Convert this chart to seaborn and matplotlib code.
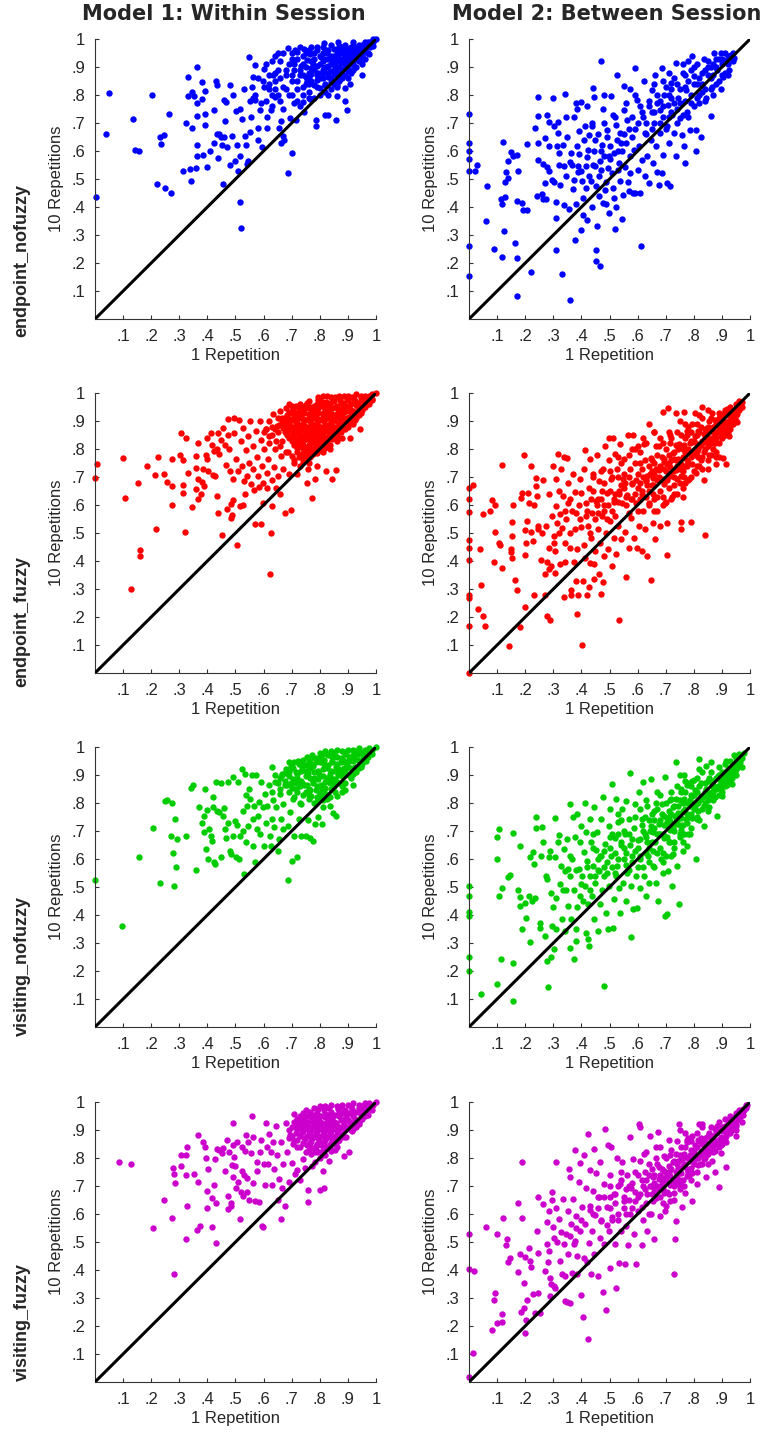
import pandas as pd
import matplotlib
matplotlib.use("Agg")
import matplotlib.pyplot as plt
import seaborn as sns

# data: (1 repetition, 10 repetitions), one list per panel
endpoint_nofuzzy_within = [
    (0.005, 0.435), (0.05, 0.807), (0.038, 0.66), (0.135, 0.714), (0.143, 0.605), (0.155, 0.599),
    (0.202, 0.802), (0.221, 0.481), (0.231, 0.651), (0.234, 0.626), (0.247, 0.657), (0.251, 0.468),
    (0.272, 0.451), (0.263, 0.731), (0.312, 0.529), (0.323, 0.70), (0.33, 0.865), (0.332, 0.795),
    (0.34, 0.494), (0.337, 0.536), (0.346, 0.681), (0.346, 0.811), (0.352, 0.795), (0.362, 0.902),
    (0.362, 0.771), (0.359, 0.54), (0.363, 0.724), (0.364, 0.621), (0.362, 0.583), (0.383, 0.585),
    (0.382, 0.848), (0.382, 0.786), (0.393, 0.814), (0.393, 0.693), (0.39, 0.733), (0.40, 0.542),
    (0.408, 0.602), (0.422, 0.748), (0.423, 0.63), (0.432, 0.85), (0.433, 0.835), (0.433, 0.66),
    (0.438, 0.575), (0.441, 0.661), (0.448, 0.652), (0.452, 0.621), (0.458, 0.65), (0.457, 0.482),
    (0.46, 0.783), (0.469, 0.614), (0.461, 0.707), (0.466, 0.776), (0.48, 0.837), (0.479, 0.55),
    (0.489, 0.654), (0.493, 0.80), (0.498, 0.563), (0.503, 0.743), (0.508, 0.53), (0.506, 0.623),
    (0.516, 0.419), (0.52, 0.326), (0.517, 0.581), (0.516, 0.752), (0.523, 0.714), (0.535, 0.655),
    (0.537, 0.621), (0.541, 0.554), (0.543, 0.563), (0.549, 0.937), (0.552, 0.667), (0.554, 0.72),
    (0.561, 0.864), (0.562, 0.788), (0.568, 0.908), (0.569, 0.781), (0.58, 0.683), (0.581, 0.64),
    (0.586, 0.748), (0.594, 0.614), (0.597, 0.852), (0.60, 0.894), (0.611, 0.721), (0.613, 0.681),
    (0.618, 0.821), (0.625, 0.748), (0.635, 0.871), (0.639, 0.793), (0.652, 0.95), (0.656, 0.681),
    (0.661, 0.629), (0.668, 0.655), (0.662, 0.707), (0.673, 0.64), (0.688, 0.968), (0.688, 0.521),
    (0.702, 0.593), (0.694, 0.718), (0.712, 0.96), (0.715, 0.71), (0.73, 0.76), (0.745, 0.738),
    (0.756, 0.849), (0.767, 0.786), (0.786, 0.688), (0.786, 0.712), (0.789, 0.96), (0.818, 0.73),
    (0.828, 0.73), (0.858, 0.71), (0.862, 0.837), (0.863, 0.795), (0.891, 0.78), (0.89, 0.825),
    (0.898, 0.748), (0.907, 0.838), (0.924, 0.902), (0.949, 0.873),
    (0.60, 0.83), (0.62, 0.87), (0.63, 0.80), (0.64, 0.85), (0.65, 0.89), (0.66, 0.78), (0.67, 0.83),
    (0.68, 0.87), (0.69, 0.91), (0.69, 0.80), (0.70, 0.85), (0.71, 0.89), (0.71, 0.77), (0.72, 0.82),
    (0.72, 0.93), (0.73, 0.87), (0.74, 0.80), (0.74, 0.91), (0.75, 0.84), (0.75, 0.95), (0.76, 0.88),
    (0.76, 0.81), (0.77, 0.92), (0.77, 0.85), (0.78, 0.89), (0.78, 0.95), (0.79, 0.83), (0.79, 0.87),
    (0.80, 0.91), (0.80, 0.94), (0.81, 0.86), (0.81, 0.89), (0.82, 0.93), (0.82, 0.84), (0.83, 0.88),
    (0.83, 0.96), (0.84, 0.91), (0.84, 0.86), (0.85, 0.94), (0.85, 0.89), (0.86, 0.92), (0.86, 0.87),
    (0.87, 0.95), (0.87, 0.90), (0.88, 0.93), (0.88, 0.89), (0.89, 0.96), (0.89, 0.91), (0.90, 0.94),
    (0.90, 0.90), (0.91, 0.97), (0.91, 0.93), (0.92, 0.95), (0.92, 0.91), (0.93, 0.97), (0.93, 0.93),
    (0.94, 0.96), (0.94, 0.92), (0.95, 0.98), (0.95, 0.94), (0.96, 0.97), (0.97, 0.98), (0.97, 0.95),
    (0.98, 0.99), (0.99, 0.99), (1.0, 1.0), (0.96, 0.93), (0.93, 0.90), (0.91, 0.88), (0.89, 0.87),
    (0.87, 0.85), (0.85, 0.84), (0.84, 0.82), (0.82, 0.81), (0.80, 0.80), (0.78, 0.79), (0.76, 0.84),
    (0.82, 0.90), (0.86, 0.96), (0.80, 0.86), (0.74, 0.87), (0.70, 0.93), (0.66, 0.92), (0.64, 0.82),
    (0.58, 0.86), (0.57, 0.80), (0.61, 0.78), (0.63, 0.92), (0.67, 0.95), (0.73, 0.97), (0.77, 0.97),
    (0.81, 0.97), (0.84, 0.98), (0.88, 0.97), (0.92, 0.99), (0.96, 0.99), (0.98, 0.97), (0.95, 0.91),
    (0.92, 0.89), (0.90, 0.86), (0.88, 0.86), (0.86, 0.83), (0.83, 0.80),
    (0.70, 0.95), (0.72, 0.955), (0.74, 0.94), (0.76, 0.96), (0.78, 0.93), (0.79, 0.97), (0.81, 0.95),
    (0.83, 0.93), (0.82, 0.96), (0.84, 0.94), (0.85, 0.965), (0.86, 0.945), (0.87, 0.975), (0.88, 0.955),
    (0.89, 0.98), (0.90, 0.965), (0.91, 0.955), (0.92, 0.975), (0.93, 0.955), (0.94, 0.98), (0.95, 0.965),
    (0.96, 0.985), (0.97, 0.99), (0.98, 0.985), (0.99, 1.0), (0.75, 0.90), (0.77, 0.895), (0.79, 0.905),
    (0.81, 0.92), (0.83, 0.905), (0.85, 0.915), (0.87, 0.925), (0.89, 0.935), (0.91, 0.915), (0.93, 0.945),
    (0.95, 0.955), (0.73, 0.89), (0.75, 0.865), (0.77, 0.875), (0.79, 0.855), (0.81, 0.88), (0.83, 0.865),
    (0.85, 0.875), (0.87, 0.88), (0.89, 0.895), (0.90, 0.885), (0.68, 0.89), (0.70, 0.87), (0.72, 0.85),
    (0.74, 0.83), (0.76, 0.865), (0.78, 0.835), (0.80, 0.825), (0.82, 0.835), (0.84, 0.845), (0.86, 0.855),
    (0.88, 0.875), (0.62, 0.84), (0.64, 0.88), (0.66, 0.86), (0.68, 0.82), (0.70, 0.80), (0.72, 0.78),
    (0.74, 0.775), (0.76, 0.79), (0.65, 0.80), (0.67, 0.75), (0.63, 0.76), (0.59, 0.77), (0.56, 0.83),
    (0.55, 0.78), (0.53, 0.82), (0.61, 0.91), (0.64, 0.94), (0.71, 0.91), (0.92, 0.93), (0.94, 0.945),
    (0.965, 0.955), (0.975, 0.975), (0.985, 0.99), (0.99, 0.975), (0.975, 0.945), (0.955, 0.93),
    (0.805, 0.935), (0.825, 0.95), (0.845, 0.93), (0.865, 0.935), (0.885, 0.945), (0.905, 0.95),
    (0.925, 0.965), (0.855, 0.905), (0.875, 0.915), (0.895, 0.92), (0.915, 0.935), (0.935, 0.925),
    (0.795, 0.88), (0.815, 0.895), (0.835, 0.885), (0.855, 0.885), (0.875, 0.865), (0.775, 0.91),
    (0.755, 0.925), (0.735, 0.905), (0.765, 0.945), (0.745, 0.965), (0.815, 0.985), (0.865, 0.99),
]

endpoint_nofuzzy_between = [
    (0.0, 0.732), (0.0, 0.629), (0.0, 0.599), (0.0, 0.571), (0.0, 0.53), (0.0, 0.26), (0.0, 0.152),
    (0.02, 0.53), (0.03, 0.552), (0.063, 0.476), (0.061, 0.349), (0.088, 0.252), (0.113, 0.429),
    (0.117, 0.412), (0.12, 0.631), (0.125, 0.313), (0.119, 0.22), (0.128, 0.436), (0.127, 0.489),
    (0.132, 0.527), (0.14, 0.564), (0.137, 0.504), (0.149, 0.598), (0.158, 0.581), (0.162, 0.271),
    (0.17, 0.423), (0.172, 0.217), (0.172, 0.083), (0.172, 0.586), (0.176, 0.529), (0.188, 0.415),
    (0.193, 0.388), (0.208, 0.388), (0.205, 0.627), (0.22, 0.167), (0.235, 0.683), (0.241, 0.438),
    (0.244, 0.793), (0.246, 0.724), (0.244, 0.629), (0.246, 0.569), (0.259, 0.448), (0.262, 0.554),
    (0.265, 0.429), (0.275, 0.429), (0.27, 0.486), (0.272, 0.645), (0.279, 0.73), (0.283, 0.705),
    (0.277, 0.543), (0.283, 0.529), (0.286, 0.617), (0.295, 0.498), (0.301, 0.489), (0.30, 0.788),
    (0.304, 0.688), (0.308, 0.361), (0.308, 0.245), (0.309, 0.417), (0.313, 0.617), (0.315, 0.664),
    (0.318, 0.705), (0.319, 0.593), (0.32, 0.549), (0.323, 0.48), (0.332, 0.162), (0.334, 0.62),
    (0.337, 0.408), (0.339, 0.545), (0.342, 0.805), (0.346, 0.721), (0.344, 0.512), (0.348, 0.652),
    (0.357, 0.394), (0.36, 0.069), (0.363, 0.593), (0.367, 0.55), (0.37, 0.464), (0.373, 0.498),
    (0.375, 0.721), (0.378, 0.283), (0.38, 0.412), (0.38, 0.771), (0.384, 0.617), (0.386, 0.75),
    (0.389, 0.548), (0.389, 0.524), (0.39, 0.67), (0.391, 0.59), (0.398, 0.319), (0.40, 0.777),
    (0.402, 0.492), (0.404, 0.373), (0.405, 0.432), (0.41, 0.64), (0.411, 0.688), (0.416, 0.545),
    (0.417, 0.468), (0.42, 0.762), (0.42, 0.355), (0.423, 0.605), (0.426, 0.658), (0.428, 0.51),
    (0.434, 0.492), (0.438, 0.688), (0.438, 0.40), (0.439, 0.70), (0.441, 0.825), (0.444, 0.793),
    (0.446, 0.599), (0.448, 0.545), (0.451, 0.476), (0.452, 0.245), (0.455, 0.333), (0.453, 0.206),
    (0.459, 0.661), (0.461, 0.438), (0.464, 0.51), (0.465, 0.188), (0.467, 0.563), (0.471, 0.923),
    (0.473, 0.623), (0.471, 0.533), (0.476, 0.415), (0.477, 0.75), (0.479, 0.801), (0.482, 0.583),
    (0.484, 0.462), (0.486, 0.488), (0.489, 0.412), (0.49, 0.652), (0.491, 0.674), (0.495, 0.539),
    (0.497, 0.581), (0.499, 0.379), (0.503, 0.617), (0.507, 0.795), (0.51, 0.521), (0.511, 0.73),
    (0.514, 0.468), (0.515, 0.432), (0.517, 0.593), (0.521, 0.321), (0.522, 0.402), (0.524, 0.694),
    (0.527, 0.64), (0.527, 0.873), (0.53, 0.533), (0.534, 0.557), (0.536, 0.664), (0.539, 0.492),
    (0.543, 0.357), (0.545, 0.599), (0.548, 0.444), (0.551, 0.748), (0.551, 0.833), (0.554, 0.543),
    (0.559, 0.629), (0.562, 0.712), (0.567, 0.488), (0.57, 0.456), (0.572, 0.581), (0.574, 0.821),
    (0.574, 0.521), (0.579, 0.652), (0.583, 0.452), (0.586, 0.605), (0.589, 0.45), (0.591, 0.896),
    (0.592, 0.679), (0.598, 0.783), (0.602, 0.533), (0.605, 0.617), (0.61, 0.452), (0.612, 0.262),
    (0.615, 0.74), (0.617, 0.569), (0.622, 0.849), (0.625, 0.664), (0.628, 0.51), (0.634, 0.581),
    (0.64, 0.76), (0.642, 0.486), (0.646, 0.64), (0.652, 0.819), (0.655, 0.557), (0.66, 0.70),
    (0.663, 0.873), (0.667, 0.617), (0.669, 0.527), (0.677, 0.48), (0.679, 0.748), (0.681, 0.664),
    (0.685, 0.521), (0.687, 0.896), (0.691, 0.587), (0.693, 0.80), (0.703, 0.688), (0.705, 0.486),
    (0.707, 0.764), (0.712, 0.629), (0.715, 0.474), (0.719, 0.842), (0.724, 0.73), (0.729, 0.664),
    (0.735, 0.914), (0.738, 0.583), (0.743, 0.788), (0.75, 0.717), (0.759, 0.657), (0.765, 0.617),
    (0.768, 0.557), (0.772, 0.819), (0.776, 0.74), (0.788, 0.675), (0.794, 0.938), (0.80, 0.867),
    (0.806, 0.602), (0.809, 0.674), (0.812, 0.789), (0.824, 0.652), (0.83, 0.837), (0.836, 0.929),
    (0.844, 0.79), (0.851, 0.902), (0.86, 0.724), (0.866, 0.83), (0.873, 0.95), (0.881, 0.89),
    (0.895, 0.821), (0.898, 0.95), (0.903, 0.864), (0.917, 0.926), (0.925, 0.89), (0.933, 0.944),
    (0.943, 0.932),
    (0.62, 0.72), (0.64, 0.78), (0.66, 0.74), (0.67, 0.80), (0.69, 0.76), (0.70, 0.83), (0.71, 0.72),
    (0.72, 0.79), (0.73, 0.86), (0.74, 0.75), (0.75, 0.82), (0.76, 0.88), (0.77, 0.78), (0.78, 0.85),
    (0.79, 0.80), (0.80, 0.90), (0.81, 0.84), (0.82, 0.77), (0.83, 0.88), (0.84, 0.82), (0.85, 0.92),
    (0.86, 0.86), (0.87, 0.80), (0.88, 0.90), (0.89, 0.85), (0.90, 0.93), (0.91, 0.88), (0.92, 0.91),
    (0.93, 0.94), (0.94, 0.92), (0.68, 0.70), (0.70, 0.68), (0.74, 0.70), (0.76, 0.73), (0.78, 0.72),
    (0.80, 0.76), (0.82, 0.80), (0.84, 0.78), (0.86, 0.82), (0.88, 0.84), (0.90, 0.87), (0.65, 0.68),
    (0.63, 0.66), (0.60, 0.70), (0.58, 0.72), (0.61, 0.76), (0.66, 0.84), (0.71, 0.88), (0.76, 0.91),
    (0.80, 0.84), (0.83, 0.84), (0.78, 0.92), (0.72, 0.82), (0.69, 0.85), (0.85, 0.87), (0.87, 0.91),
    (0.89, 0.93), (0.91, 0.95), (0.92, 0.87), (0.82, 0.86), (0.77, 0.83), (0.73, 0.77), (0.67, 0.77),
    (0.63, 0.70), (0.65, 0.74), (0.68, 0.78), (0.71, 0.80), (0.74, 0.84), (0.77, 0.87), (0.79, 0.89),
    (0.81, 0.91), (0.84, 0.89), (0.86, 0.90), (0.88, 0.93), (0.90, 0.91), (0.92, 0.94), (0.94, 0.95),
    (0.75, 0.77), (0.79, 0.77), (0.83, 0.81), (0.87, 0.87), (0.72, 0.74), (0.69, 0.72), (0.57, 0.68),
    (0.55, 0.66), (0.53, 0.60), (0.50, 0.57), (0.47, 0.60), (0.45, 0.64), (0.48, 0.70), (0.52, 0.72),
    (0.56, 0.77), (0.59, 0.80), (0.54, 0.63), (0.44, 0.55), (0.42, 0.58), (0.40, 0.53), (0.36, 0.56),
]

endpoint_fuzzy_within = [
    (0.0, 0.696), (0.006, 0.746), (0.101, 0.768), (0.108, 0.624), (0.127, 0.30), (0.154, 0.68),
    (0.16, 0.439), (0.16, 0.418), (0.186, 0.74), (0.212, 0.708), (0.218, 0.516), (0.225, 0.77),
    (0.246, 0.712), (0.257, 0.684), (0.274, 0.766), (0.275, 0.668), (0.275, 0.60), (0.302, 0.779),
    (0.306, 0.857), (0.312, 0.76), (0.312, 0.671), (0.312, 0.644), (0.319, 0.504), (0.323, 0.841),
    (0.331, 0.716), (0.345, 0.593), (0.358, 0.774), (0.359, 0.733), (0.358, 0.656), (0.365, 0.692),
    (0.365, 0.623), (0.368, 0.823), (0.377, 0.638), (0.382, 0.684), (0.386, 0.728), (0.388, 0.668),
    (0.395, 0.778), (0.397, 0.838), (0.40, 0.764), (0.401, 0.721), (0.412, 0.859), (0.416, 0.814),
    (0.421, 0.709), (0.422, 0.792), (0.427, 0.704), (0.433, 0.80), (0.434, 0.632), (0.438, 0.858),
    (0.438, 0.57), (0.442, 0.782), (0.45, 0.833), (0.453, 0.493), (0.456, 0.874), (0.461, 0.815),
    (0.465, 0.743), (0.469, 0.585), (0.472, 0.852), (0.474, 0.909), (0.478, 0.80), (0.48, 0.722),
    (0.483, 0.603), (0.483, 0.553), (0.486, 0.564), (0.49, 0.617), (0.492, 0.692), (0.495, 0.912),
    (0.496, 0.857), (0.501, 0.766), (0.504, 0.459), (0.508, 0.721), (0.511, 0.903), (0.516, 0.597),
    (0.518, 0.829), (0.522, 0.74), (0.526, 0.877), (0.528, 0.60), (0.53, 0.686), (0.534, 0.638),
    (0.537, 0.797), (0.54, 0.704), (0.544, 0.847), (0.548, 0.752), (0.552, 0.901), (0.556, 0.674),
    (0.561, 0.811), (0.563, 0.728), (0.567, 0.654), (0.569, 0.531), (0.573, 0.865), (0.575, 0.771),
    (0.58, 0.704), (0.582, 0.663), (0.587, 0.901), (0.59, 0.833), (0.591, 0.531), (0.594, 0.74),
    (0.598, 0.609), (0.599, 0.678), (0.603, 0.80), (0.607, 0.871), (0.611, 0.716), (0.613, 0.662),
    (0.617, 0.764), (0.62, 0.847), (0.623, 0.352), (0.626, 0.499), (0.629, 0.597), (0.63, 0.69),
    (0.635, 0.925), (0.637, 0.735), (0.641, 0.80), (0.644, 0.662), (0.649, 0.883), (0.652, 0.704),
    (0.658, 0.638), (0.661, 0.776), (0.664, 0.828), (0.67, 0.728), (0.676, 0.57), (0.677, 0.907),
    (0.682, 0.863), (0.686, 0.788), (0.692, 0.71), (0.696, 0.582), (0.70, 0.955), (0.703, 0.828),
    (0.708, 0.752), (0.715, 0.895), (0.72, 0.71), (0.727, 0.81), (0.732, 0.955), (0.739, 0.764),
    (0.747, 0.859), (0.756, 0.68), (0.759, 0.728), (0.771, 0.624), (0.775, 0.782), (0.783, 0.692),
    (0.787, 0.828), (0.791, 0.74), (0.807, 0.967), (0.813, 0.788), (0.822, 0.722), (0.842, 0.692),
    (0.838, 0.80), (0.858, 0.726), (0.863, 0.829), (0.878, 0.841), (0.907, 0.841), (0.943, 0.871),
    (0.81, 0.99), (0.84, 0.985), (0.87, 0.99), (0.90, 0.99), (0.93, 0.995), (0.96, 0.99), (0.985, 0.995),
    (1.0, 1.0), (0.73, 0.96), (0.755, 0.965), (0.78, 0.955), (0.80, 0.97), (0.825, 0.96), (0.85, 0.97),
    (0.875, 0.965), (0.90, 0.975), (0.925, 0.97), (0.95, 0.975), (0.97, 0.975), (0.985, 0.98),
    (0.705, 0.94), (0.725, 0.935), (0.75, 0.945), (0.77, 0.935), (0.795, 0.945), (0.82, 0.94),
    (0.845, 0.945), (0.865, 0.94), (0.89, 0.95), (0.91, 0.94), (0.935, 0.95), (0.955, 0.955),
    (0.685, 0.92), (0.71, 0.915), (0.735, 0.92), (0.76, 0.915), (0.785, 0.925), (0.81, 0.915),
    (0.835, 0.92), (0.86, 0.915), (0.88, 0.925), (0.905, 0.915), (0.925, 0.925), (0.945, 0.93),
    (0.665, 0.90), (0.69, 0.895), (0.715, 0.90), (0.74, 0.89), (0.765, 0.90), (0.79, 0.895),
    (0.815, 0.90), (0.84, 0.895), (0.86, 0.90), (0.885, 0.895), (0.905, 0.90), (0.925, 0.905),
    (0.67, 0.875), (0.695, 0.87), (0.72, 0.88), (0.745, 0.87), (0.77, 0.875), (0.795, 0.87),
    (0.82, 0.875), (0.845, 0.87), (0.865, 0.88), (0.885, 0.875), (0.90, 0.88), (0.685, 0.85),
    (0.71, 0.855), (0.735, 0.845), (0.76, 0.855), (0.785, 0.85), (0.81, 0.845), (0.835, 0.855),
    (0.855, 0.85), (0.875, 0.86), (0.70, 0.83), (0.725, 0.825), (0.75, 0.835), (0.775, 0.825),
    (0.80, 0.83), (0.825, 0.825), (0.845, 0.835), (0.86, 0.845), (0.72, 0.805), (0.745, 0.81),
    (0.77, 0.80), (0.795, 0.81), (0.82, 0.805), (0.835, 0.815), (0.73, 0.78), (0.755, 0.785),
    (0.78, 0.79), (0.80, 0.795), (0.71, 0.76), (0.74, 0.755), (0.765, 0.77), (0.93, 0.91),
    (0.95, 0.94), (0.96, 0.95), (0.975, 0.96), (0.92, 0.89), (0.94, 0.92), (0.89, 0.87),
    (0.65, 0.86), (0.63, 0.88), (0.62, 0.82), (0.60, 0.86), (0.66, 0.81), (0.68, 0.79),
    (0.795, 0.985), (0.825, 0.99), (0.855, 0.985), (0.885, 0.99), (0.915, 0.985), (0.945, 0.99),
    (0.975, 0.99), (0.715, 0.955), (0.74, 0.95), (0.765, 0.95), (0.79, 0.96), (0.815, 0.955),
    (0.835, 0.965), (0.86, 0.955), (0.885, 0.965), (0.91, 0.96), (0.935, 0.965), (0.96, 0.965),
    (0.695, 0.93), (0.72, 0.925), (0.745, 0.93), (0.77, 0.925), (0.795, 0.93), (0.82, 0.93),
    (0.845, 0.925), (0.87, 0.93), (0.895, 0.935), (0.92, 0.935), (0.94, 0.945), (0.675, 0.91),
    (0.70, 0.905), (0.725, 0.91), (0.75, 0.905), (0.775, 0.91), (0.80, 0.905), (0.825, 0.91),
    (0.85, 0.905), (0.875, 0.91), (0.895, 0.91), (0.915, 0.915), (0.655, 0.885), (0.68, 0.885),
    (0.705, 0.88), (0.73, 0.885), (0.755, 0.88), (0.78, 0.885), (0.805, 0.88), (0.83, 0.885),
    (0.855, 0.88), (0.875, 0.89), (0.895, 0.885), (0.675, 0.86), (0.70, 0.865), (0.725, 0.86),
    (0.75, 0.865), (0.775, 0.86), (0.80, 0.86), (0.825, 0.865), (0.85, 0.86), (0.865, 0.865),
    (0.69, 0.84), (0.715, 0.84), (0.74, 0.835), (0.765, 0.84), (0.79, 0.84), (0.815, 0.835),
    (0.835, 0.84), (0.71, 0.815), (0.735, 0.82), (0.76, 0.815), (0.785, 0.82), (0.81, 0.82),
    (0.825, 0.81), (0.72, 0.79), (0.745, 0.795), (0.77, 0.79), (0.79, 0.785), (0.70, 0.775),
    (0.725, 0.77), (0.75, 0.77), (0.76, 0.75), (0.73, 0.74), (0.955, 0.945), (0.965, 0.96),
    (0.985, 0.975), (0.94, 0.935), (0.925, 0.915), (0.91, 0.905), (0.90, 0.89), (0.88, 0.88),
    (0.87, 0.865), (0.64, 0.87), (0.645, 0.83), (0.63, 0.85), (0.61, 0.87), (0.62, 0.90),
    (0.65, 0.91), (0.66, 0.935), (0.68, 0.945), (0.69, 0.96),
    (0.762, 0.972), (0.792, 0.975), (0.822, 0.968), (0.847, 0.978), (0.872, 0.975), (0.897, 0.982),
    (0.922, 0.98), (0.947, 0.983), (0.703, 0.952), (0.728, 0.948), (0.752, 0.956), (0.777, 0.944),
    (0.803, 0.953), (0.828, 0.947), (0.853, 0.952), (0.878, 0.948), (0.903, 0.955), (0.928, 0.957),
    (0.692, 0.932), (0.712, 0.928), (0.737, 0.934), (0.762, 0.927), (0.787, 0.935), (0.812, 0.928),
    (0.837, 0.933), (0.862, 0.926), (0.887, 0.932), (0.912, 0.928), (0.667, 0.912), (0.692, 0.908),
    (0.717, 0.913), (0.742, 0.906), (0.767, 0.912), (0.792, 0.907), (0.817, 0.913), (0.842, 0.906),
    (0.867, 0.912), (0.887, 0.906), (0.668, 0.888), (0.693, 0.884), (0.718, 0.89), (0.743, 0.882),
    (0.768, 0.888), (0.793, 0.882), (0.818, 0.887), (0.843, 0.882), (0.868, 0.89), (0.687, 0.868),
    (0.712, 0.864), (0.737, 0.87), (0.762, 0.864), (0.787, 0.868), (0.812, 0.862), (0.837, 0.868),
    (0.857, 0.862), (0.702, 0.846), (0.727, 0.842), (0.752, 0.848), (0.777, 0.842), (0.802, 0.847),
    (0.827, 0.842), (0.712, 0.826), (0.742, 0.828), (0.767, 0.822), (0.792, 0.828), (0.817, 0.822),
    (0.733, 0.808), (0.758, 0.803), (0.782, 0.806), (0.805, 0.812), (0.742, 0.785), (0.765, 0.78),
]

endpoint_fuzzy_between = [
    (0.0, 0.661), (0.0, 0.621), (0.0, 0.575), (0.0, 0.475), (0.0, 0.446), (0.0, 0.403), (0.0, 0.279),
    (0.0, 0.267), (0.0, 0.169), (0.0, 0.0), (0.013, 0.673), (0.031, 0.227), (0.038, 0.444),
    (0.044, 0.315), (0.051, 0.567), (0.051, 0.203), (0.058, 0.167), (0.073, 0.579), (0.081, 0.617),
    (0.09, 0.397), (0.094, 0.60), (0.092, 0.504), (0.107, 0.463), (0.111, 0.456), (0.117, 0.742),
    (0.119, 0.376), (0.141, 0.098), (0.15, 0.442), (0.149, 0.432), (0.152, 0.412), (0.153, 0.489),
    (0.153, 0.541), (0.155, 0.60), (0.164, 0.334), (0.172, 0.298), (0.182, 0.165), (0.184, 0.624),
    (0.189, 0.642), (0.197, 0.778), (0.199, 0.51), (0.20, 0.42), (0.20, 0.235), (0.202, 0.465),
    (0.208, 0.543), (0.21, 0.642), (0.215, 0.606), (0.22, 0.74), (0.221, 0.505), (0.227, 0.471),
    (0.232, 0.599), (0.232, 0.28), (0.238, 0.698), (0.239, 0.668), (0.241, 0.632), (0.245, 0.525),
    (0.247, 0.513), (0.257, 0.402), (0.259, 0.501), (0.265, 0.689), (0.269, 0.28), (0.271, 0.352),
    (0.275, 0.525), (0.277, 0.203), (0.279, 0.397), (0.283, 0.638), (0.284, 0.447), (0.286, 0.37),
    (0.289, 0.191), (0.291, 0.384), (0.295, 0.561), (0.298, 0.74), (0.301, 0.489), (0.303, 0.463),
    (0.306, 0.436), (0.307, 0.356), (0.308, 0.692), (0.31, 0.597), (0.313, 0.537), (0.316, 0.782),
    (0.319, 0.65), (0.32, 0.501), (0.322, 0.39), (0.325, 0.567), (0.327, 0.728), (0.331, 0.519),
    (0.333, 0.632), (0.337, 0.272), (0.339, 0.77), (0.342, 0.465), (0.342, 0.396), (0.346, 0.549),
    (0.348, 0.768), (0.351, 0.609), (0.354, 0.678), (0.358, 0.501), (0.36, 0.447), (0.363, 0.298),
    (0.363, 0.28), (0.366, 0.579), (0.37, 0.71), (0.372, 0.396), (0.376, 0.647), (0.378, 0.513),
    (0.382, 0.327), (0.384, 0.211), (0.386, 0.444), (0.388, 0.28), (0.39, 0.60), (0.394, 0.692),
    (0.396, 0.549), (0.40, 0.642), (0.403, 0.101), (0.405, 0.328), (0.408, 0.459), (0.408, 0.73),
    (0.411, 0.796), (0.414, 0.412), (0.416, 0.609), (0.42, 0.28), (0.422, 0.525), (0.426, 0.662),
    (0.428, 0.308), (0.429, 0.394), (0.432, 0.764), (0.434, 0.483), (0.439, 0.573), (0.441, 0.71),
    (0.444, 0.337), (0.446, 0.39), (0.449, 0.436), (0.452, 0.614), (0.455, 0.778), (0.458, 0.513),
    (0.461, 0.686), (0.464, 0.352), (0.467, 0.465), (0.47, 0.284), (0.472, 0.561), (0.476, 0.728),
    (0.477, 0.325), (0.479, 0.60), (0.482, 0.418), (0.485, 0.811), (0.489, 0.501), (0.491, 0.642),
    (0.495, 0.442), (0.497, 0.76), (0.499, 0.841), (0.503, 0.543), (0.507, 0.692), (0.509, 0.382),
    (0.512, 0.838), (0.515, 0.483), (0.517, 0.611), (0.521, 0.782), (0.524, 0.424), (0.527, 0.728),
    (0.53, 0.525), (0.534, 0.189), (0.535, 0.65), (0.539, 0.817), (0.542, 0.478), (0.545, 0.606),
    (0.548, 0.692), (0.553, 0.764), (0.556, 0.505), (0.56, 0.344), (0.562, 0.636), (0.566, 0.849),
    (0.57, 0.446), (0.574, 0.728), (0.578, 0.555), (0.58, 0.674), (0.583, 0.85), (0.586, 0.484),
    (0.59, 0.80), (0.595, 0.609), (0.598, 0.446), (0.602, 0.71), (0.606, 0.525), (0.61, 0.752),
    (0.614, 0.641), (0.617, 0.437), (0.622, 0.817), (0.625, 0.513), (0.629, 0.686), (0.634, 0.418),
    (0.639, 0.606), (0.641, 0.889), (0.646, 0.768), (0.649, 0.334), (0.653, 0.537), (0.656, 0.671),
    (0.66, 0.862), (0.663, 0.478), (0.667, 0.728), (0.669, 0.58), (0.675, 0.811), (0.681, 0.525),
    (0.685, 0.692), (0.69, 0.931), (0.693, 0.764), (0.697, 0.606), (0.703, 0.42), (0.705, 0.537),
    (0.707, 0.945), (0.711, 0.71), (0.717, 0.85), (0.723, 0.63), (0.73, 0.764), (0.737, 0.928),
    (0.741, 0.692), (0.747, 0.817), (0.753, 0.54), (0.755, 0.516), (0.761, 0.63), (0.765, 0.931),
    (0.768, 0.74), (0.776, 0.85), (0.782, 0.692), (0.791, 0.539), (0.794, 0.78), (0.803, 0.928),
    (0.806, 0.716), (0.812, 0.817), (0.824, 0.76), (0.83, 0.949), (0.836, 0.688), (0.841, 0.492),
    (0.846, 0.85), (0.854, 0.78), (0.866, 0.928), (0.872, 0.82), (0.878, 0.748), (0.889, 0.871),
    (0.904, 0.768), (0.913, 0.745), (0.919, 0.943), (0.925, 0.847), (0.937, 0.907), (0.952, 0.895),
    (0.955, 0.949), (0.973, 0.967),
    (0.60, 0.66), (0.62, 0.70), (0.63, 0.63), (0.64, 0.74), (0.65, 0.67), (0.66, 0.71), (0.67, 0.78),
    (0.68, 0.65), (0.68, 0.74), (0.69, 0.69), (0.70, 0.80), (0.70, 0.72), (0.71, 0.66), (0.72, 0.76),
    (0.72, 0.84), (0.73, 0.70), (0.73, 0.79), (0.74, 0.74), (0.74, 0.86), (0.75, 0.68), (0.75, 0.81),
    (0.76, 0.77), (0.76, 0.72), (0.77, 0.84), (0.77, 0.89), (0.78, 0.75), (0.78, 0.80), (0.79, 0.86),
    (0.79, 0.70), (0.80, 0.78), (0.80, 0.83), (0.81, 0.89), (0.81, 0.74), (0.82, 0.81), (0.82, 0.86),
    (0.83, 0.77), (0.83, 0.91), (0.84, 0.84), (0.84, 0.80), (0.85, 0.88), (0.85, 0.76), (0.86, 0.82),
    (0.86, 0.91), (0.87, 0.86), (0.87, 0.80), (0.88, 0.89), (0.88, 0.84), (0.89, 0.93), (0.89, 0.82),
    (0.90, 0.87), (0.90, 0.91), (0.91, 0.85), (0.91, 0.94), (0.92, 0.89), (0.92, 0.92), (0.93, 0.87),
    (0.93, 0.95), (0.94, 0.91), (0.94, 0.93), (0.95, 0.96), (0.95, 0.92), (0.96, 0.94), (0.96, 0.97),
    (0.97, 0.95), (0.58, 0.62), (0.57, 0.70), (0.59, 0.75), (0.61, 0.79), (0.63, 0.82), (0.65, 0.76),
    (0.66, 0.62), (0.69, 0.82), (0.71, 0.86), (0.74, 0.64), (0.77, 0.68), (0.80, 0.72), (0.83, 0.73),
    (0.86, 0.78), (0.88, 0.79), (0.89, 0.77), (0.55, 0.66), (0.56, 0.60), (0.53, 0.70), (0.52, 0.64),
    (0.54, 0.75), (0.62, 0.58), (0.64, 0.60), (0.70, 0.61), (0.73, 0.64), (0.78, 0.88), (0.82, 0.92),
    (0.85, 0.94), (0.75, 0.90), (0.68, 0.84), (0.60, 0.81), (0.57, 0.78), (0.50, 0.72), (0.48, 0.68),
    (0.46, 0.62), (0.51, 0.58), (0.49, 0.55), (0.65, 0.72), (0.67, 0.69), (0.71, 0.75), (0.79, 0.83),
    (0.81, 0.79), (0.84, 0.87), (0.87, 0.83), (0.90, 0.84), (0.92, 0.86), (0.94, 0.89), (0.76, 0.80),
    (0.61, 0.68), (0.615, 0.73), (0.625, 0.76), (0.635, 0.67), (0.645, 0.71), (0.655, 0.64), (0.66, 0.75),
    (0.665, 0.81), (0.675, 0.70), (0.685, 0.77), (0.69, 0.63), (0.695, 0.73), (0.705, 0.69), (0.71, 0.78),
    (0.715, 0.82), (0.725, 0.72), (0.73, 0.67), (0.735, 0.76), (0.745, 0.80), (0.75, 0.73), (0.755, 0.85),
    (0.765, 0.70), (0.77, 0.79), (0.775, 0.74), (0.785, 0.82), (0.79, 0.77), (0.795, 0.89), (0.805, 0.80),
    (0.81, 0.85), (0.815, 0.77), (0.825, 0.88), (0.83, 0.83), (0.835, 0.79), (0.845, 0.86), (0.85, 0.81),
    (0.855, 0.90), (0.865, 0.84), (0.87, 0.88), (0.875, 0.82), (0.885, 0.86), (0.89, 0.91), (0.895, 0.88),
    (0.905, 0.89), (0.91, 0.92), (0.915, 0.87), (0.925, 0.90), (0.93, 0.93), (0.935, 0.89), (0.945, 0.94),
    (0.95, 0.90), (0.955, 0.95), (0.965, 0.96), (0.42, 0.58), (0.44, 0.65), (0.45, 0.55), (0.47, 0.62),
    (0.48, 0.58), (0.50, 0.65), (0.51, 0.70), (0.52, 0.56), (0.53, 0.61), (0.54, 0.67), (0.55, 0.71),
    (0.56, 0.63), (0.57, 0.57), (0.58, 0.68), (0.59, 0.64), (0.60, 0.58), (0.61, 0.62), (0.63, 0.69),
    (0.64, 0.65), (0.66, 0.58), (0.67, 0.63), (0.69, 0.60), (0.72, 0.62), (0.76, 0.66), (0.78, 0.69),
    (0.82, 0.74), (0.85, 0.73), (0.88, 0.77), (0.40, 0.52), (0.43, 0.50), (0.46, 0.57), (0.38, 0.57),
    (0.36, 0.62), (0.34, 0.58), (0.44, 0.70), (0.47, 0.72), (0.53, 0.77), (0.58, 0.80), (0.62, 0.84),
    (0.66, 0.86),
    (0.705, 0.745), (0.725, 0.785), (0.745, 0.765), (0.765, 0.815), (0.785, 0.79), (0.805, 0.845),
    (0.825, 0.815), (0.845, 0.83), (0.865, 0.87), (0.885, 0.895), (0.905, 0.865), (0.925, 0.925),
    (0.945, 0.915), (0.965, 0.945), (0.695, 0.675), (0.715, 0.705), (0.735, 0.725), (0.755, 0.705),
    (0.775, 0.76), (0.795, 0.745), (0.815, 0.80), (0.835, 0.825), (0.855, 0.835), (0.875, 0.855),
    (0.895, 0.845), (0.915, 0.895), (0.935, 0.915), (0.955, 0.925), (0.655, 0.695), (0.675, 0.725),
    (0.695, 0.755), (0.715, 0.735), (0.735, 0.815), (0.755, 0.745), (0.775, 0.865), (0.795, 0.825),
    (0.815, 0.865), (0.835, 0.855), (0.855, 0.875), (0.875, 0.905), (0.895, 0.925), (0.915, 0.935),
    (0.635, 0.705), (0.615, 0.65), (0.595, 0.69), (0.575, 0.62), (0.555, 0.68), (0.535, 0.64),
    (0.515, 0.62), (0.495, 0.60), (0.475, 0.65), (0.455, 0.60), (0.435, 0.62), (0.415, 0.56),
]

visiting_nofuzzy_within = [
    (0.0, 0.525), (0.096, 0.36), (0.157, 0.609), (0.205, 0.712), (0.231, 0.516), (0.249, 0.808),
    (0.257, 0.811), (0.274, 0.799), (0.269, 0.683), (0.279, 0.622), (0.282, 0.502), (0.285, 0.743),
    (0.288, 0.572), (0.293, 0.671), (0.324, 0.683), (0.342, 0.853), (0.35, 0.865), (0.358, 0.56),
    (0.371, 0.785), (0.38, 0.728), (0.389, 0.755), (0.388, 0.695), (0.393, 0.851), (0.394, 0.636),
    (0.399, 0.775), (0.403, 0.60), (0.407, 0.707), (0.412, 0.683), (0.415, 0.665), (0.419, 0.823),
    (0.421, 0.787), (0.425, 0.59), (0.427, 0.582), (0.432, 0.875), (0.433, 0.773), (0.442, 0.767),
    (0.447, 0.871), (0.448, 0.606), (0.454, 0.755), (0.459, 0.781), (0.463, 0.707), (0.465, 0.674),
    (0.472, 0.875), (0.474, 0.728), (0.48, 0.63), (0.485, 0.618), (0.49, 0.892), (0.492, 0.683),
    (0.497, 0.736), (0.501, 0.609), (0.504, 0.722), (0.51, 0.875), (0.512, 0.60), (0.515, 0.683),
    (0.522, 0.92), (0.526, 0.773), (0.528, 0.699), (0.53, 0.548), (0.534, 0.904), (0.537, 0.829),
    (0.537, 0.66), (0.542, 0.791), (0.546, 0.719), (0.549, 0.851), (0.552, 0.815), (0.558, 0.901),
    (0.561, 0.743), (0.563, 0.648), (0.567, 0.79), (0.571, 0.591), (0.573, 0.899), (0.575, 0.707),
    (0.579, 0.755), (0.584, 0.803), (0.587, 0.689), (0.592, 0.875), (0.597, 0.785), (0.601, 0.648),
    (0.605, 0.833), (0.609, 0.729), (0.613, 0.79), (0.619, 0.863), (0.623, 0.683), (0.625, 0.648),
    (0.629, 0.928), (0.631, 0.744), (0.635, 0.811), (0.638, 0.713), (0.642, 0.875), (0.646, 0.785),
    (0.65, 0.63), (0.654, 0.671), (0.658, 0.833), (0.662, 0.744), (0.664, 0.901), (0.668, 0.797),
    (0.67, 0.707), (0.676, 0.863), (0.686, 0.526), (0.688, 0.719), (0.692, 0.946), (0.694, 0.767),
    (0.70, 0.594), (0.706, 0.815), (0.709, 0.683), (0.718, 0.606), (0.724, 0.875), (0.727, 0.744),
    (0.732, 0.683), (0.735, 0.797), (0.751, 0.683), (0.753, 0.863), (0.759, 0.738), (0.767, 0.677),
    (0.777, 0.665), (0.783, 0.725), (0.789, 0.803), (0.795, 0.749), (0.807, 0.725), (0.813, 0.785),
    (0.824, 0.815), (0.836, 0.791), (0.848, 0.765), (0.858, 0.755), (0.86, 0.827), (0.878, 0.839),
    (0.89, 0.845), (0.917, 0.863),
    (0.82, 0.985), (0.86, 0.99), (0.90, 0.99), (0.94, 0.995), (0.975, 0.995), (1.0, 1.0),
    (0.74, 0.955), (0.77, 0.96), (0.80, 0.965), (0.83, 0.97), (0.86, 0.965), (0.89, 0.975), (0.92, 0.97),
    (0.95, 0.98), (0.975, 0.98), (0.70, 0.93), (0.725, 0.94), (0.755, 0.935), (0.785, 0.945),
    (0.815, 0.94), (0.845, 0.945), (0.875, 0.945), (0.905, 0.95), (0.935, 0.955), (0.955, 0.96),
    (0.665, 0.905), (0.69, 0.91), (0.72, 0.905), (0.75, 0.915), (0.78, 0.91), (0.81, 0.92),
    (0.84, 0.915), (0.87, 0.92), (0.895, 0.925), (0.925, 0.93), (0.675, 0.88), (0.705, 0.885),
    (0.735, 0.88), (0.765, 0.89), (0.795, 0.885), (0.825, 0.89), (0.855, 0.885), (0.88, 0.895),
    (0.905, 0.90), (0.70, 0.855), (0.73, 0.86), (0.76, 0.85), (0.79, 0.86), (0.82, 0.855),
    (0.85, 0.86), (0.87, 0.87), (0.74, 0.83), (0.77, 0.825), (0.80, 0.835), (0.83, 0.83),
    (0.855, 0.84), (0.78, 0.80), (0.81, 0.81), (0.835, 0.82), (0.93, 0.91), (0.95, 0.94),
    (0.965, 0.95), (0.91, 0.89), (0.89, 0.87), (0.94, 0.925), (0.985, 0.975), (0.88, 0.86),
    (0.80, 0.98), (0.84, 0.985), (0.88, 0.985), (0.92, 0.99), (0.96, 0.99), (0.755, 0.965),
    (0.785, 0.96), (0.815, 0.955), (0.845, 0.965), (0.875, 0.96), (0.905, 0.965), (0.935, 0.975),
    (0.96, 0.97), (0.71, 0.945), (0.74, 0.935), (0.77, 0.94), (0.80, 0.945), (0.83, 0.935),
    (0.86, 0.94), (0.89, 0.945), (0.92, 0.95), (0.945, 0.945), (0.68, 0.92), (0.705, 0.925),
    (0.735, 0.915), (0.765, 0.925), (0.795, 0.915), (0.825, 0.925), (0.855, 0.915), (0.885, 0.925),
    (0.91, 0.925), (0.66, 0.89), (0.69, 0.895), (0.72, 0.89), (0.75, 0.895), (0.78, 0.89),
    (0.81, 0.895), (0.84, 0.89), (0.865, 0.90), (0.89, 0.91), (0.685, 0.865), (0.715, 0.87),
    (0.745, 0.865), (0.775, 0.87), (0.805, 0.865), (0.835, 0.87), (0.86, 0.875), (0.72, 0.84),
    (0.75, 0.84), (0.785, 0.845), (0.815, 0.84), (0.84, 0.85), (0.76, 0.815), (0.79, 0.82),
    (0.82, 0.825), (0.92, 0.905), (0.945, 0.93), (0.97, 0.965), (0.985, 0.99), (0.65, 0.87),
    (0.64, 0.90), (0.66, 0.85), (0.63, 0.84), (0.69, 0.84), (0.71, 0.82), (0.73, 0.80),
    (0.772, 0.972), (0.812, 0.975), (0.852, 0.978), (0.892, 0.982), (0.932, 0.985), (0.722, 0.952),
    (0.762, 0.948), (0.802, 0.955), (0.842, 0.952), (0.882, 0.955), (0.922, 0.96), (0.697, 0.932),
    (0.737, 0.928), (0.777, 0.932), (0.817, 0.928), (0.857, 0.93), (0.897, 0.935), (0.677, 0.908),
    (0.717, 0.912), (0.757, 0.906), (0.797, 0.905), (0.837, 0.904), (0.877, 0.908), (0.697, 0.872),
    (0.737, 0.87), (0.777, 0.878), (0.817, 0.876), (0.852, 0.872), (0.717, 0.85), (0.767, 0.848),
    (0.807, 0.85), (0.762, 0.83), (0.802, 0.822),
]

visiting_nofuzzy_between = [
    (0.0, 0.502), (0.0, 0.468), (0.0, 0.412), (0.0, 0.397), (0.0, 0.25), (0.0, 0.20), (0.043, 0.119),
    (0.099, 0.68), (0.099, 0.60), (0.099, 0.154), (0.105, 0.707), (0.105, 0.468), (0.113, 0.244),
    (0.117, 0.496), (0.14, 0.536), (0.146, 0.544), (0.156, 0.229), (0.158, 0.692), (0.158, 0.094),
    (0.174, 0.489), (0.18, 0.648), (0.182, 0.465), (0.182, 0.432), (0.188, 0.351), (0.20, 0.444),
    (0.202, 0.391), (0.215, 0.468), (0.216, 0.303), (0.218, 0.606), (0.224, 0.45), (0.227, 0.624),
    (0.232, 0.582), (0.235, 0.462), (0.238, 0.751), (0.239, 0.71), (0.251, 0.355), (0.253, 0.37),
    (0.257, 0.612), (0.259, 0.713), (0.265, 0.662), (0.271, 0.325), (0.275, 0.54), (0.277, 0.235),
    (0.279, 0.528), (0.281, 0.142), (0.283, 0.606), (0.289, 0.63), (0.291, 0.48), (0.293, 0.251),
    (0.296, 0.361), (0.298, 0.43), (0.303, 0.277), (0.306, 0.746), (0.307, 0.609), (0.31, 0.462),
    (0.31, 0.349), (0.315, 0.66), (0.319, 0.686), (0.322, 0.51), (0.327, 0.576), (0.331, 0.385),
    (0.334, 0.49), (0.337, 0.636), (0.34, 0.558), (0.342, 0.343), (0.346, 0.49), (0.348, 0.671),
    (0.351, 0.565), (0.354, 0.432), (0.358, 0.797), (0.359, 0.283), (0.36, 0.54), (0.363, 0.385),
    (0.366, 0.60), (0.37, 0.749), (0.372, 0.49), (0.375, 0.244), (0.377, 0.679), (0.379, 0.349),
    (0.382, 0.309), (0.384, 0.43), (0.386, 0.761), (0.39, 0.566), (0.394, 0.66), (0.396, 0.468),
    (0.398, 0.719), (0.402, 0.54), (0.405, 0.45), (0.408, 0.624), (0.411, 0.799), (0.414, 0.504),
    (0.416, 0.337), (0.417, 0.695), (0.42, 0.594), (0.422, 0.313), (0.424, 0.441), (0.427, 0.289),
    (0.429, 0.54), (0.432, 0.743), (0.435, 0.66), (0.438, 0.468), (0.44, 0.576), (0.444, 0.785),
    (0.446, 0.385), (0.449, 0.516), (0.452, 0.631), (0.455, 0.695), (0.458, 0.343), (0.461, 0.558),
    (0.465, 0.438), (0.467, 0.612), (0.471, 0.743), (0.473, 0.49), (0.477, 0.821), (0.479, 0.146),
    (0.482, 0.54), (0.485, 0.654), (0.488, 0.409), (0.491, 0.588), (0.493, 0.349), (0.497, 0.719),
    (0.499, 0.504), (0.503, 0.779), (0.507, 0.612), (0.51, 0.869), (0.512, 0.355), (0.515, 0.456),
    (0.518, 0.677), (0.522, 0.54), (0.524, 0.815), (0.527, 0.576), (0.53, 0.731), (0.534, 0.495),
    (0.539, 0.409), (0.541, 0.65), (0.545, 0.779), (0.548, 0.516), (0.551, 0.60), (0.554, 0.689),
    (0.558, 0.45), (0.56, 0.809), (0.562, 0.551), (0.568, 0.743), (0.572, 0.65), (0.574, 0.907),
    (0.576, 0.323), (0.578, 0.504), (0.58, 0.588), (0.583, 0.421), (0.586, 0.71), (0.59, 0.797),
    (0.595, 0.54), (0.598, 0.425), (0.60, 0.667), (0.604, 0.839), (0.608, 0.498), (0.61, 0.60),
    (0.614, 0.743), (0.618, 0.875), (0.622, 0.54), (0.625, 0.689), (0.629, 0.468), (0.634, 0.79),
    (0.637, 0.612), (0.641, 0.516), (0.646, 0.719), (0.649, 0.887), (0.653, 0.576), (0.658, 0.77),
    (0.661, 0.66), (0.667, 0.516), (0.669, 0.839), (0.674, 0.45), (0.679, 0.689), (0.684, 0.60),
    (0.687, 0.797), (0.691, 0.551), (0.696, 0.893), (0.699, 0.397), (0.703, 0.403), (0.705, 0.731),
    (0.709, 0.558), (0.715, 0.66), (0.719, 0.815), (0.723, 0.504), (0.726, 0.618), (0.732, 0.755),
    (0.737, 0.946), (0.741, 0.576), (0.747, 0.441), (0.75, 0.689), (0.755, 0.851), (0.761, 0.63),
    (0.765, 0.90), (0.771, 0.743), (0.776, 0.648), (0.785, 0.797), (0.788, 0.689), (0.80, 0.881),
    (0.809, 0.60), (0.812, 0.743), (0.818, 0.958), (0.826, 0.827), (0.836, 0.719), (0.842, 0.934),
    (0.854, 0.785), (0.86, 0.946), (0.869, 0.857), (0.881, 0.755), (0.889, 0.886), (0.901, 0.827),
    (0.913, 0.952), (0.919, 0.863), (0.937, 0.867), (0.943, 0.97), (0.961, 0.976),
    (0.60, 0.64), (0.62, 0.70), (0.63, 0.62), (0.64, 0.74), (0.65, 0.66), (0.66, 0.71), (0.67, 0.78),
    (0.68, 0.64), (0.68, 0.74), (0.69, 0.69), (0.70, 0.80), (0.70, 0.72), (0.71, 0.66), (0.72, 0.76),
    (0.72, 0.84), (0.73, 0.70), (0.73, 0.79), (0.74, 0.74), (0.74, 0.86), (0.75, 0.68), (0.75, 0.81),
    (0.76, 0.77), (0.76, 0.72), (0.77, 0.84), (0.77, 0.88), (0.78, 0.75), (0.78, 0.80), (0.79, 0.86),
    (0.79, 0.71), (0.80, 0.78), (0.80, 0.83), (0.81, 0.89), (0.81, 0.75), (0.82, 0.81), (0.82, 0.86),
    (0.83, 0.78), (0.83, 0.91), (0.84, 0.84), (0.84, 0.80), (0.85, 0.88), (0.85, 0.77), (0.86, 0.83),
    (0.86, 0.91), (0.87, 0.86), (0.87, 0.81), (0.88, 0.89), (0.88, 0.85), (0.89, 0.93), (0.89, 0.83),
    (0.90, 0.87), (0.90, 0.91), (0.91, 0.86), (0.91, 0.94), (0.92, 0.89), (0.92, 0.92), (0.93, 0.88),
    (0.93, 0.95), (0.94, 0.91), (0.94, 0.93), (0.95, 0.96), (0.95, 0.92), (0.96, 0.94), (0.96, 0.97),
    (0.97, 0.96), (0.58, 0.61), (0.57, 0.69), (0.59, 0.75), (0.61, 0.78), (0.63, 0.81), (0.65, 0.76),
    (0.55, 0.64), (0.56, 0.58), (0.53, 0.69), (0.52, 0.62), (0.54, 0.74), (0.62, 0.57), (0.64, 0.59),
    (0.70, 0.61), (0.73, 0.64), (0.78, 0.87), (0.82, 0.92), (0.75, 0.90), (0.68, 0.83), (0.50, 0.68),
    (0.48, 0.63), (0.46, 0.60), (0.51, 0.57), (0.49, 0.55), (0.67, 0.69), (0.71, 0.75), (0.79, 0.83),
    (0.84, 0.87), (0.87, 0.84), (0.90, 0.84), (0.93, 0.90), (0.76, 0.80), (0.98, 0.98), (0.97, 0.93),
    (0.61, 0.67), (0.615, 0.72), (0.625, 0.75), (0.635, 0.66), (0.645, 0.70), (0.655, 0.63), (0.66, 0.74),
    (0.665, 0.80), (0.675, 0.69), (0.685, 0.76), (0.69, 0.62), (0.695, 0.72), (0.705, 0.68), (0.71, 0.77),
    (0.715, 0.81), (0.725, 0.71), (0.73, 0.66), (0.735, 0.75), (0.745, 0.79), (0.75, 0.72), (0.755, 0.84),
    (0.765, 0.69), (0.77, 0.78), (0.775, 0.73), (0.785, 0.81), (0.79, 0.76), (0.795, 0.88), (0.805, 0.79),
    (0.81, 0.84), (0.815, 0.77), (0.825, 0.87), (0.83, 0.82), (0.835, 0.79), (0.845, 0.85), (0.85, 0.81),
    (0.855, 0.89), (0.865, 0.84), (0.87, 0.88), (0.875, 0.82), (0.885, 0.86), (0.89, 0.90), (0.895, 0.87),
    (0.905, 0.89), (0.91, 0.91), (0.915, 0.87), (0.925, 0.90), (0.93, 0.92), (0.935, 0.89), (0.945, 0.94),
    (0.95, 0.90), (0.955, 0.95), (0.42, 0.57), (0.44, 0.64), (0.45, 0.54), (0.47, 0.61), (0.48, 0.57),
    (0.50, 0.64), (0.51, 0.69), (0.52, 0.55), (0.53, 0.60), (0.54, 0.66), (0.55, 0.70), (0.56, 0.62),
    (0.57, 0.56), (0.58, 0.67), (0.59, 0.63), (0.60, 0.57), (0.61, 0.61), (0.63, 0.68), (0.64, 0.64),
    (0.66, 0.57), (0.67, 0.62), (0.69, 0.59), (0.72, 0.61), (0.76, 0.66), (0.78, 0.69), (0.82, 0.74),
    (0.40, 0.51), (0.43, 0.49), (0.46, 0.56), (0.38, 0.56), (0.36, 0.61), (0.44, 0.69), (0.53, 0.76),
    (0.705, 0.745), (0.725, 0.785), (0.745, 0.765), (0.765, 0.815), (0.785, 0.79), (0.805, 0.845),
    (0.825, 0.815), (0.845, 0.83), (0.865, 0.87), (0.885, 0.895), (0.905, 0.865), (0.925, 0.925),
    (0.945, 0.915), (0.965, 0.945), (0.695, 0.675), (0.715, 0.705), (0.735, 0.725), (0.755, 0.705),
    (0.775, 0.76), (0.795, 0.745), (0.815, 0.80), (0.835, 0.825), (0.855, 0.835), (0.875, 0.855),
    (0.895, 0.845), (0.915, 0.895), (0.935, 0.915), (0.955, 0.925), (0.655, 0.695), (0.675, 0.725),
    (0.695, 0.755), (0.715, 0.735), (0.735, 0.815), (0.755, 0.745), (0.775, 0.865), (0.795, 0.825),
]

visiting_fuzzy_within = [
    (0.087, 0.785), (0.128, 0.778), (0.208, 0.551), (0.246, 0.65), (0.275, 0.585), (0.279, 0.764),
    (0.282, 0.387), (0.281, 0.742), (0.285, 0.712), (0.305, 0.811), (0.306, 0.77), (0.323, 0.51),
    (0.326, 0.629), (0.324, 0.74), (0.324, 0.811), (0.326, 0.841), (0.354, 0.742), (0.362, 0.543),
    (0.365, 0.883), (0.365, 0.716), (0.374, 0.557), (0.383, 0.859), (0.393, 0.838), (0.394, 0.80),
    (0.397, 0.683), (0.397, 0.621), (0.401, 0.76), (0.416, 0.555), (0.418, 0.659), (0.422, 0.704),
    (0.431, 0.638), (0.431, 0.498), (0.427, 0.797), (0.433, 0.833), (0.442, 0.829), (0.451, 0.817),
    (0.457, 0.835), (0.463, 0.752), (0.469, 0.865), (0.472, 0.666), (0.473, 0.617), (0.478, 0.821),
    (0.483, 0.641), (0.485, 0.629), (0.488, 0.776), (0.49, 0.927), (0.49, 0.734), (0.492, 0.847),
    (0.496, 0.805), (0.498, 0.773), (0.502, 0.692), (0.507, 0.859), (0.51, 0.716), (0.516, 0.582),
    (0.518, 0.68), (0.522, 0.838), (0.524, 0.752), (0.528, 0.666), (0.531, 0.74), (0.535, 0.826),
    (0.537, 0.883), (0.54, 0.728), (0.542, 0.68), (0.546, 0.857), (0.549, 0.65), (0.554, 0.818),
    (0.559, 0.951), (0.561, 0.71), (0.563, 0.877), (0.569, 0.647), (0.575, 0.785), (0.578, 0.752),
    (0.585, 0.644), (0.587, 0.823), (0.591, 0.863), (0.594, 0.558), (0.599, 0.555), (0.601, 0.78),
    (0.605, 0.702), (0.607, 0.925), (0.611, 0.841), (0.617, 0.78), (0.62, 0.885), (0.626, 0.823),
    (0.63, 0.704), (0.635, 0.859), (0.638, 0.761), (0.644, 0.913), (0.647, 0.812), (0.652, 0.65),
    (0.656, 0.726), (0.661, 0.581), (0.663, 0.859), (0.667, 0.692), (0.67, 0.778), (0.675, 0.627),
    (0.68, 0.925), (0.684, 0.823), (0.689, 0.716), (0.694, 0.883), (0.70, 0.782), (0.709, 0.957),
    (0.712, 0.742), (0.72, 0.759), (0.73, 0.722), (0.739, 0.797), (0.747, 0.764), (0.759, 0.686),
    (0.759, 0.644), (0.771, 0.77), (0.783, 0.785), (0.801, 0.686), (0.813, 0.752), (0.816, 0.692),
    (0.834, 0.79), (0.854, 0.829), (0.886, 0.809), (0.905, 0.823),
    (0.80, 0.985), (0.84, 0.99), (0.88, 0.99), (0.92, 0.995), (0.96, 0.995), (1.0, 1.0),
    (0.74, 0.96), (0.765, 0.965), (0.79, 0.96), (0.815, 0.97), (0.84, 0.965), (0.865, 0.975),
    (0.89, 0.97), (0.915, 0.975), (0.94, 0.98), (0.965, 0.98), (0.985, 0.985), (0.72, 0.94),
    (0.745, 0.935), (0.77, 0.945), (0.795, 0.94), (0.82, 0.945), (0.845, 0.94), (0.87, 0.95),
    (0.895, 0.945), (0.92, 0.95), (0.945, 0.955), (0.965, 0.96), (0.71, 0.915), (0.735, 0.92),
    (0.76, 0.91), (0.785, 0.92), (0.81, 0.915), (0.835, 0.92), (0.86, 0.915), (0.885, 0.925),
    (0.91, 0.92), (0.93, 0.93), (0.715, 0.89), (0.74, 0.895), (0.765, 0.885), (0.79, 0.895),
    (0.815, 0.89), (0.84, 0.895), (0.865, 0.89), (0.89, 0.90), (0.91, 0.90), (0.72, 0.865),
    (0.745, 0.87), (0.77, 0.86), (0.795, 0.87), (0.82, 0.865), (0.845, 0.87), (0.87, 0.865),
    (0.885, 0.875), (0.73, 0.84), (0.755, 0.845), (0.78, 0.835), (0.805, 0.845), (0.83, 0.84),
    (0.855, 0.85), (0.77, 0.815), (0.795, 0.82), (0.82, 0.81), (0.84, 0.825), (0.93, 0.91),
    (0.95, 0.94), (0.97, 0.955), (0.915, 0.895), (0.895, 0.875), (0.985, 0.97), (0.94, 0.92),
    (0.70, 0.88), (0.69, 0.90), (0.705, 0.85), (0.75, 0.82), (0.80, 0.80), (0.86, 0.84),
    (0.78, 0.98), (0.82, 0.985), (0.86, 0.985), (0.90, 0.99), (0.94, 0.99), (0.975, 0.995),
    (0.73, 0.95), (0.755, 0.95), (0.78, 0.955), (0.805, 0.95), (0.83, 0.955), (0.855, 0.955),
    (0.88, 0.96), (0.905, 0.96), (0.93, 0.965), (0.955, 0.97), (0.725, 0.925), (0.75, 0.925),
    (0.775, 0.93), (0.80, 0.93), (0.825, 0.93), (0.85, 0.93), (0.875, 0.935), (0.90, 0.935),
    (0.925, 0.94), (0.72, 0.905), (0.745, 0.905), (0.77, 0.90), (0.795, 0.905), (0.82, 0.90),
    (0.845, 0.905), (0.87, 0.905), (0.895, 0.91), (0.73, 0.88), (0.755, 0.88), (0.78, 0.875),
    (0.805, 0.88), (0.83, 0.875), (0.855, 0.88), (0.875, 0.885), (0.74, 0.855), (0.765, 0.855),
    (0.79, 0.85), (0.815, 0.855), (0.84, 0.855), (0.865, 0.86), (0.76, 0.83), (0.785, 0.83),
    (0.81, 0.83), (0.835, 0.835), (0.92, 0.905), (0.94, 0.93), (0.96, 0.95), (0.98, 0.975),
    (0.99, 0.99), (0.71, 0.93), (0.70, 0.91), (0.69, 0.87), (0.71, 0.86), (0.72, 0.84),
    (0.752, 0.972), (0.792, 0.975), (0.832, 0.978), (0.872, 0.982), (0.912, 0.985), (0.952, 0.985),
    (0.742, 0.948), (0.767, 0.955), (0.792, 0.948), (0.817, 0.958), (0.842, 0.948), (0.867, 0.96),
    (0.892, 0.955), (0.917, 0.962), (0.942, 0.965), (0.732, 0.932), (0.757, 0.928), (0.782, 0.935),
    (0.807, 0.925), (0.832, 0.935), (0.857, 0.925), (0.882, 0.935), (0.907, 0.93), (0.727, 0.912),
    (0.752, 0.915), (0.777, 0.91), (0.802, 0.915), (0.827, 0.91), (0.852, 0.915), (0.877, 0.912),
    (0.737, 0.892), (0.762, 0.895), (0.787, 0.888), (0.812, 0.895), (0.837, 0.888), (0.862, 0.895),
    (0.747, 0.868), (0.772, 0.872), (0.797, 0.865), (0.822, 0.872), (0.847, 0.865), (0.762, 0.845),
    (0.787, 0.842), (0.812, 0.845), (0.837, 0.845), (0.782, 0.82), (0.807, 0.818),
]

visiting_fuzzy_between = [
    (0.0, 0.528), (0.0, 0.017), (0.0, 0.403), (0.018, 0.397), (0.015, 0.102), (0.061, 0.552),
    (0.081, 0.186), (0.09, 0.293), (0.094, 0.317), (0.099, 0.528), (0.099, 0.211), (0.117, 0.215),
    (0.119, 0.244), (0.122, 0.585), (0.132, 0.49), (0.134, 0.512), (0.137, 0.43), (0.146, 0.442),
    (0.176, 0.638), (0.176, 0.394), (0.182, 0.456), (0.184, 0.25), (0.188, 0.585), (0.19, 0.787),
    (0.194, 0.265), (0.197, 0.354), (0.20, 0.445), (0.20, 0.176), (0.203, 0.221), (0.206, 0.292),
    (0.212, 0.478), (0.218, 0.432), (0.221, 0.411), (0.229, 0.313), (0.235, 0.245), (0.241, 0.54),
    (0.244, 0.462), (0.247, 0.319), (0.247, 0.662), (0.253, 0.245), (0.265, 0.635), (0.271, 0.397),
    (0.277, 0.57), (0.279, 0.492), (0.282, 0.427), (0.283, 0.61), (0.285, 0.468), (0.287, 0.373),
    (0.289, 0.307), (0.291, 0.349), (0.295, 0.65), (0.296, 0.677), (0.298, 0.552), (0.301, 0.343),
    (0.303, 0.516), (0.307, 0.337), (0.308, 0.785), (0.31, 0.622), (0.313, 0.50), (0.319, 0.582),
    (0.322, 0.432), (0.327, 0.536), (0.331, 0.385), (0.334, 0.654), (0.337, 0.494), (0.34, 0.379),
    (0.342, 0.289), (0.346, 0.528), (0.348, 0.286), (0.351, 0.61), (0.353, 0.456), (0.356, 0.761),
    (0.358, 0.731), (0.36, 0.283), (0.363, 0.564), (0.366, 0.391), (0.37, 0.654), (0.372, 0.494),
    (0.376, 0.504), (0.378, 0.829), (0.38, 0.594), (0.384, 0.385), (0.386, 0.449), (0.39, 0.713),
    (0.394, 0.54), (0.396, 0.781), (0.398, 0.311), (0.402, 0.624), (0.404, 0.233), (0.408, 0.444),
    (0.41, 0.811), (0.414, 0.564), (0.416, 0.693), (0.42, 0.427), (0.422, 0.152), (0.424, 0.886),
    (0.427, 0.498), (0.429, 0.616), (0.432, 0.756), (0.435, 0.385), (0.439, 0.54), (0.441, 0.684),
    (0.444, 0.831), (0.446, 0.456), (0.449, 0.597), (0.453, 0.746), (0.458, 0.379), (0.461, 0.661),
    (0.465, 0.516), (0.467, 0.785), (0.471, 0.576), (0.476, 0.321), (0.479, 0.707), (0.482, 0.492),
    (0.485, 0.904), (0.488, 0.259), (0.491, 0.624), (0.493, 0.845), (0.497, 0.54), (0.501, 0.409),
    (0.503, 0.74), (0.507, 0.839), (0.51, 0.588), (0.515, 0.67), (0.521, 0.492), (0.524, 0.337),
    (0.527, 0.80), (0.53, 0.60), (0.534, 0.424), (0.539, 0.707), (0.542, 0.54), (0.546, 0.785),
    (0.551, 0.648), (0.554, 0.421), (0.558, 0.558), (0.562, 0.74), (0.566, 0.49), (0.572, 0.877),
    (0.574, 0.60), (0.578, 0.694), (0.583, 0.797), (0.586, 0.528), (0.591, 0.648), (0.596, 0.421),
    (0.60, 0.74), (0.605, 0.922), (0.61, 0.91), (0.614, 0.624), (0.617, 0.49), (0.622, 0.815),
    (0.628, 0.689), (0.634, 0.54), (0.639, 0.779), (0.643, 0.88), (0.648, 0.60), (0.653, 0.733),
    (0.658, 0.51), (0.664, 0.839), (0.667, 0.659), (0.672, 0.892), (0.677, 0.767), (0.681, 0.594),
    (0.687, 0.707), (0.693, 0.809), (0.699, 0.612), (0.705, 0.74), (0.711, 0.863), (0.717, 0.648),
    (0.729, 0.385), (0.732, 0.51), (0.735, 0.576), (0.741, 0.707), (0.747, 0.922), (0.753, 0.792),
    (0.759, 0.624), (0.767, 0.675), (0.774, 0.857), (0.782, 0.74), (0.792, 0.645), (0.80, 0.815),
    (0.81, 0.707), (0.822, 0.779), (0.83, 0.922), (0.842, 0.731), (0.848, 0.815), (0.866, 0.791),
    (0.874, 0.749), (0.881, 0.916), (0.889, 0.695), (0.898, 0.818), (0.913, 0.767), (0.916, 0.857),
    (0.931, 0.922), (0.949, 0.88), (0.961, 0.946),
    (0.60, 0.66), (0.62, 0.70), (0.63, 0.64), (0.64, 0.74), (0.65, 0.67), (0.66, 0.71), (0.67, 0.78),
    (0.68, 0.66), (0.68, 0.74), (0.69, 0.69), (0.70, 0.80), (0.70, 0.72), (0.71, 0.67), (0.72, 0.76),
    (0.72, 0.83), (0.73, 0.70), (0.73, 0.79), (0.74, 0.74), (0.74, 0.86), (0.75, 0.69), (0.75, 0.81),
    (0.76, 0.77), (0.76, 0.72), (0.77, 0.84), (0.77, 0.89), (0.78, 0.75), (0.78, 0.80), (0.79, 0.86),
    (0.79, 0.72), (0.80, 0.78), (0.80, 0.83), (0.81, 0.89), (0.81, 0.75), (0.82, 0.81), (0.82, 0.86),
    (0.83, 0.78), (0.83, 0.91), (0.84, 0.84), (0.84, 0.80), (0.85, 0.88), (0.85, 0.78), (0.86, 0.83),
    (0.86, 0.91), (0.87, 0.86), (0.87, 0.82), (0.88, 0.89), (0.88, 0.85), (0.89, 0.93), (0.89, 0.84),
    (0.90, 0.87), (0.90, 0.91), (0.91, 0.87), (0.91, 0.94), (0.92, 0.89), (0.92, 0.92), (0.93, 0.89),
    (0.93, 0.95), (0.94, 0.91), (0.94, 0.93), (0.95, 0.96), (0.95, 0.92), (0.96, 0.94), (0.96, 0.97),
    (0.97, 0.96), (0.98, 0.97), (0.99, 0.99), (0.58, 0.62), (0.57, 0.70), (0.59, 0.75), (0.61, 0.79),
    (0.63, 0.82), (0.65, 0.76), (0.55, 0.66), (0.56, 0.60), (0.53, 0.70), (0.52, 0.64), (0.54, 0.75),
    (0.62, 0.58), (0.64, 0.60), (0.70, 0.63), (0.73, 0.65), (0.78, 0.87), (0.82, 0.92), (0.75, 0.90),
    (0.68, 0.84), (0.50, 0.70), (0.48, 0.66), (0.46, 0.62), (0.51, 0.58), (0.49, 0.56), (0.67, 0.70),
    (0.71, 0.75), (0.79, 0.83), (0.84, 0.87), (0.87, 0.84), (0.90, 0.85), (0.93, 0.91), (0.76, 0.80),
    (0.97, 0.93), (0.95, 0.90), (0.83, 0.85), (0.74, 0.78), (0.69, 0.73), (0.66, 0.68), (0.61, 0.67),
    (0.615, 0.72), (0.625, 0.75), (0.635, 0.67), (0.645, 0.70), (0.655, 0.645), (0.66, 0.74), (0.665, 0.80),
    (0.675, 0.69), (0.685, 0.76), (0.69, 0.64), (0.695, 0.72), (0.705, 0.68), (0.71, 0.77), (0.715, 0.81),
    (0.725, 0.71), (0.73, 0.675), (0.735, 0.75), (0.745, 0.79), (0.75, 0.72), (0.755, 0.84), (0.765, 0.70),
    (0.77, 0.78), (0.775, 0.735), (0.785, 0.81), (0.79, 0.765), (0.795, 0.88), (0.805, 0.795), (0.81, 0.84),
    (0.815, 0.775), (0.825, 0.87), (0.83, 0.825), (0.835, 0.795), (0.845, 0.855), (0.85, 0.815),
    (0.855, 0.89), (0.865, 0.845), (0.87, 0.88), (0.875, 0.825), (0.885, 0.865), (0.89, 0.905),
    (0.895, 0.875), (0.905, 0.895), (0.91, 0.915), (0.915, 0.88), (0.925, 0.905), (0.93, 0.935),
    (0.935, 0.90), (0.945, 0.945), (0.95, 0.915), (0.955, 0.955), (0.965, 0.965), (0.975, 0.975),
    (0.985, 0.98), (0.44, 0.60), (0.47, 0.58), (0.50, 0.62), (0.53, 0.58), (0.55, 0.62), (0.57, 0.65),
    (0.59, 0.68), (0.60, 0.61), (0.63, 0.72), (0.58, 0.71), (0.56, 0.69), (0.54, 0.72), (0.52, 0.67),
    (0.50, 0.66), (0.46, 0.66), (0.43, 0.63), (0.40, 0.58), (0.38, 0.55), (0.36, 0.52),
    (0.705, 0.745), (0.725, 0.785), (0.745, 0.765), (0.765, 0.815), (0.785, 0.79), (0.805, 0.845),
    (0.825, 0.815), (0.845, 0.83), (0.865, 0.87), (0.885, 0.895), (0.905, 0.865), (0.925, 0.925),
    (0.945, 0.915), (0.965, 0.945), (0.695, 0.675), (0.715, 0.705), (0.735, 0.725), (0.755, 0.705),
    (0.775, 0.76), (0.795, 0.745), (0.815, 0.80), (0.835, 0.825), (0.855, 0.835), (0.875, 0.855),
    (0.895, 0.845), (0.915, 0.895), (0.935, 0.915), (0.955, 0.935), (0.975, 0.955), (0.985, 0.99),
    (0.655, 0.695), (0.675, 0.725), (0.695, 0.755), (0.715, 0.735), (0.735, 0.815), (0.755, 0.745),
    (0.775, 0.865), (0.795, 0.825), (0.815, 0.865), (0.835, 0.855), (0.855, 0.875), (0.875, 0.905),
]

row_labels = ["endpoint_nofuzzy", "endpoint_fuzzy", "visiting_nofuzzy", "visiting_fuzzy"]
col_titles = ["Model 1: Within Session", "Model 2: Between Session"]
row_colors = ["#0000ff", "#ff0000", "#00cc00", "#cc00cc"]
panels = [
    [endpoint_nofuzzy_within, endpoint_nofuzzy_between],
    [endpoint_fuzzy_within, endpoint_fuzzy_between],
    [visiting_nofuzzy_within, visiting_nofuzzy_between],
    [visiting_fuzzy_within, visiting_fuzzy_between],
]
tick_values = [0.1, 0.2, 0.3, 0.4, 0.5, 0.6, 0.7, 0.8, 0.9, 1.0]
tick_labels = [".1", ".2", ".3", ".4", ".5", ".6", ".7", ".8", ".9", "1"]

sns.set_style("white")
plt.rcParams["font.family"] = ["Liberation Sans", "DejaVu Sans"]

fig = plt.figure(figsize=(7.64, 14.32), dpi=100)

lefts = [0.1243, 0.6139]
bottoms = [0.7772, 0.5300, 0.2828, 0.0349]
width, height = 0.3678, 0.1955

for r in range(4):
    for c in range(2):
        ax = fig.add_axes([lefts[c], bottoms[r], width, height])
        df = pd.DataFrame(panels[r][c], columns=["one", "ten"])
        sns.scatterplot(data=df, x="one", y="ten", color=row_colors[r], s=21,
                        linewidth=0, legend=False, ax=ax, clip_on=False, zorder=2)
        # identity line
        ax.plot([0, 1], [0, 1], color="black", lw=2.2, zorder=3, solid_capstyle="butt")
        ax.set_xlim(0, 1)
        ax.set_ylim(0, 1)
        ax.set_xticks(tick_values)
        ax.set_xticklabels(tick_labels)
        ax.set_yticks(tick_values)
        ax.set_yticklabels(tick_labels)
        ax.tick_params(direction="in", length=3, width=0.8, color="#333333",
                       labelsize=12, pad=7, bottom=True, left=True)
        for side in ["top", "right"]:
            ax.spines[side].set_visible(False)
        for side in ["left", "bottom"]:
            ax.spines[side].set_color("#333333")
            ax.spines[side].set_linewidth(0.8)
        ax.set_xlabel("1 Repetition", fontsize=12, labelpad=3)
        ax.set_ylabel("10 Repetitions", fontsize=12, labelpad=5)

fig.text(0.293, 0.9902, col_titles[0], ha="center", va="center",
         fontsize=15, fontweight="bold", family="DejaVu Sans")
fig.text(0.5916, 0.9902, col_titles[1], ha="left", va="center",
         fontsize=15, fontweight="bold", family="DejaVu Sans")

row_label_y = [0.8184, 0.5663, 0.3254, 0.0768]
for lab, yy in zip(row_labels, row_label_y):
    fig.text(0.0288, yy, lab, rotation=90, ha="center", va="center", fontsize=13, fontweight="bold")

fig.savefig("out.png", dpi=100)
